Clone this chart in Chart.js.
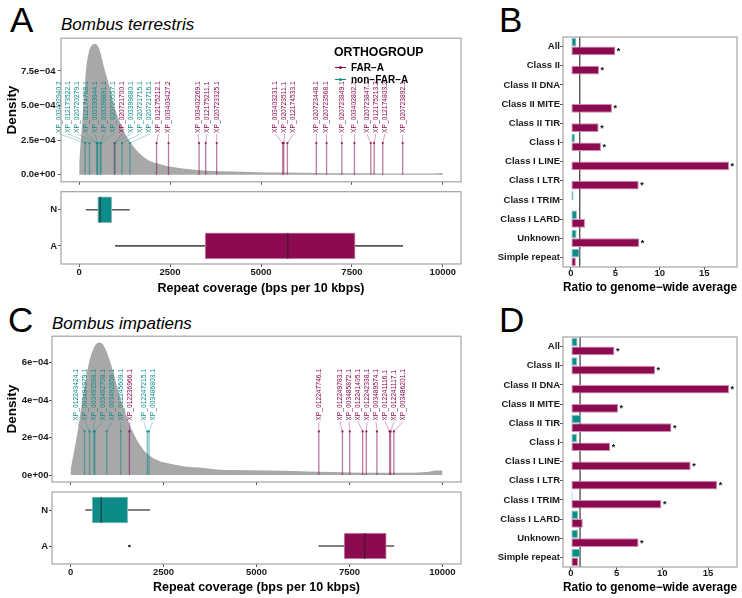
<!DOCTYPE html>
<html>
<head>
<meta charset="utf-8">
<script src="https://cdn.jsdelivr.net/npm/chart.js@4.4.1/dist/chart.umd.min.js"></script>
<style>
  body { margin: 0; width: 742px; height: 598px; position: relative; overflow: hidden; background: #fff;
         font-family: "Liberation Sans", Arial, sans-serif; color: #000; }
  canvas { position: absolute; }
  .txt { position: absolute; white-space: nowrap; line-height: 1; }
  .letter { font-size: 35px; }
  .species { font-size: 17px; font-style: italic; }
  .key { position: absolute; height: 1px; width: 11px; }
  .key i { position: absolute; left: 4px; top: -1.5px; width: 3px; height: 3px; border-radius: 50%; }
</style>
</head>
<body>
<div class="txt letter" style="left:10px;top:2px">A</div>
<div class="txt species" style="left:61px;top:16px">Bombus terrestris</div>
<div class="txt letter" style="left:499px;top:2px">B</div>
<div class="txt letter" style="left:8px;top:302px">C</div>
<div class="txt species" style="left:52px;top:315px">Bombus impatiens</div>
<div class="txt letter" style="left:499px;top:302px">D</div>

<canvas id="densA" width="470" height="160" style="left:0;top:30px"></canvas>
<canvas id="boxA" width="470" height="115" style="left:0;top:185px"></canvas>
<canvas id="barB" width="282" height="270" style="left:460px;top:30px"></canvas>
<canvas id="densC" width="470" height="160" style="left:0;top:330px"></canvas>
<canvas id="boxC" width="470" height="113" style="left:0;top:485px"></canvas>
<canvas id="barD" width="282" height="270" style="left:460px;top:330px"></canvas>

<div class="txt" style="left:334px;top:46px;font-size:12.3px;font-weight:bold">ORTHOGROUP</div>
<div class="key" style="left:335px;top:67px;background:#8b0a50"><i style="background:#8b0a50"></i></div>
<div class="txt" style="left:351px;top:62.5px;font-size:10px;font-weight:bold">FAR&#8722;A</div>
<div class="key" style="left:335px;top:79px;background:#0d8b89"><i style="background:#0d8b89"></i></div>
<div class="txt" style="left:351px;top:74.5px;font-size:10px;font-weight:bold">non&#8722;FAR&#8722;A</div>

<script>
Chart.defaults.font.family = '"Liberation Sans", Arial, sans-serif';
Chart.defaults.color = '#1a1a1a';

const MAGENTA = '#8b0a50';
const TEAL = '#0d8b89';

const coverageTicks = [0, 2500, 5000, 7500, 10000];
const boxGroups = ['N', 'A'];

// Bombus terrestris
const terrDensityX = [0, 50, 130, 190, 260, 350, 450, 550, 700, 830, 960, 1150, 1370, 1790, 2250, 2980, 3500, 4250, 5170, 6080, 7000, 7900, 8800, 9700, 10000];
const terrDensityY = [0.9e-4, 2.6e-4, 5.4e-4, 7.6e-4, 8.8e-4, 9.35e-4, 9.45e-4, 9.1e-4, 7.6e-4, 6.4e-4, 5.0e-4, 3.6e-4, 2.5e-4, 1.25e-4, 0.75e-4, 0.42e-4, 0.3e-4, 0.24e-4, 0.17e-4, 0.16e-4, 0.12e-4, 0.11e-4, 0.09e-4, 0.09e-4, 0.13e-4];
const terrDensityTicks = [0, 0.00025, 0.0005, 0.00075];
const terrDensityTickLabels = ['0.0e+00', '2.5e\u221204', '5.0e\u221204', '7.5e\u221204'];
const terrGenes = ['XP_003402940.2', 'XP_012173522.1', 'XP_020720279.1', 'XP_012174768.1', 'XP_003399944.1',
  'XP_003399891.1', 'XP_020720557.1', 'XP_020721700.1', 'XP_003399880.1', 'XP_020721715.1', 'XP_020721716.1',
  'XP_012175212.1', 'XP_003403427.2', 'XP_003402269.1', 'XP_012175211.1', 'XP_020723325.1', 'XP_003403231.1',
  'XP_020723511.1', 'XP_012174533.1', 'XP_020723448.1', 'XP_020723568.1', 'XP_020723849.1', 'XP_003402802.1',
  'XP_020723847.1', 'XP_012175213.2', 'XP_012174803.2', 'XP_020723892.1'];
const terrGeneGroup = ['non-FAR-A', 'non-FAR-A', 'non-FAR-A', 'non-FAR-A', 'non-FAR-A', 'non-FAR-A', 'non-FAR-A',
  'FAR-A', 'non-FAR-A', 'non-FAR-A', 'non-FAR-A', 'FAR-A', 'FAR-A', 'FAR-A', 'FAR-A', 'FAR-A', 'FAR-A', 'FAR-A',
  'FAR-A', 'FAR-A', 'FAR-A', 'FAR-A', 'FAR-A', 'FAR-A', 'FAR-A', 'FAR-A', 'FAR-A'];
const terrGeneCoverage = [164, 283, 485, 500, 511, 584, 600, 970, 985, 1178, 1397, 2128, 2457, 3297, 3479, 3781,
  5597, 5625, 5726, 6521, 6803, 7224, 7570, 8019, 8110, 8348, 8896];
const terrBoxLow = [190, 995];
const terrBoxQ1 = [511, 3461];
const terrBoxMedian = [575, 5735];
const terrBoxQ3 = [895, 7589];
const terrBoxHigh = [1379, 8895];
const terrOutliers = [[], []];

// Bombus impatiens
const impDensityX = [0, 179, 357, 536, 760, 893, 1072, 1252, 1430, 1698, 1966, 2324, 2770, 3128, 3485, 3932, 4379, 5273, 6166, 7060, 7954, 8847, 9562, 9830, 10000];
const impDensityY = [0.3e-4, 2.2e-4, 4.5e-4, 6.3e-4, 7.07e-4, 6.9e-4, 6.0e-4, 4.7e-4, 3.55e-4, 2.2e-4, 1.33e-4, 0.8e-4, 0.57e-4, 0.45e-4, 0.41e-4, 0.3e-4, 0.27e-4, 0.25e-4, 0.21e-4, 0.16e-4, 0.12e-4, 0.12e-4, 0.16e-4, 0.25e-4, 0.25e-4];
const impDensityTicks = [0, 0.0002, 0.0004, 0.0006];
const impDensityTickLabels = ['0e+00', '2e\u221204', '4e\u221204', '6e\u221204'];
const impGenes = ['XP_012243424.1', 'XP_003494979.1', 'XP_003493598.1', 'XP_003492708.1', 'XP_003492856.1',
  'XP_012245609.1', 'XP_012236966.1', 'XP_012247215.1', 'XP_003486803.1', 'XP_012247746.1', 'XP_012249783.1',
  'XP_003485872.1', 'XP_012241405.1', 'XP_012242338.1', 'XP_003489574.1', 'XP_012241116.1', 'XP_012241117.1',
  'XP_003486201.1'];
const impGeneGroup = ['non-FAR-A', 'non-FAR-A', 'non-FAR-A', 'non-FAR-A', 'non-FAR-A', 'non-FAR-A', 'FAR-A',
  'non-FAR-A', 'non-FAR-A', 'FAR-A', 'FAR-A', 'FAR-A', 'FAR-A', 'FAR-A', 'FAR-A', 'FAR-A', 'FAR-A', 'FAR-A'];
const impGeneCoverage = [375, 509, 625, 652, 974, 1349, 1582, 2064, 2110, 6676, 7311, 7507, 7855, 7954, 8239, 8579, 8606, 8694];
const impBoxLow = [402, 6676];
const impBoxQ1 = [581, 7354];
const impBoxMedian = [823, 7909];
const impBoxQ3 = [1536, 8491];
const impBoxHigh = [2127, 8694];
const impOutliers = [[], [1582]];

// ratio panels
const repeatClasses = ['All', 'Class II', 'Class II DNA', 'Class II MITE', 'Class II TIR', 'Class I',
  'Class I LINE', 'Class I LTR', 'Class I TRIM', 'Class I LARD', 'Unknown', 'Simple repeat'];
const ratioTicks = [0, 5, 10, 15];
const terrRatioNonFarA = [0.62, null, null, null, null, 0.45, null, null, 0.3, 0.68, 0.64, 0.98];
const terrRatioFarA = [5.0, 3.16, null, 4.62, 3.12, 3.38, 17.8, 7.63, null, 1.58, 7.7, 0.56];
const terrSignificant = [true, true, false, true, true, true, true, true, false, false, true, false];
const impRatioNonFarA = [0.73, 0.7, null, null, 1.13, 0.66, null, null, 0.18, 0.8, 0.77, 1.03];
const impRatioFarA = [4.76, 9.2, 17.3, 5.16, 11.0, 4.3, 13.1, 16.0, 9.9, 1.3, 7.4, 0.8];
const impSignificant = [true, true, true, true, true, true, true, true, true, false, true, false];

const tickFont = { size: 9.5, weight: 'bold' };
const noPlugins = { legend: { display: false }, tooltip: { enabled: false } };

const framePlugin = {
  id: 'frame',
  afterDraw(chart) {
    const { ctx, chartArea: a } = chart;
    ctx.save();
    ctx.strokeStyle = '#a3a3a3';
    ctx.lineWidth = 1.2;
    ctx.strokeRect(a.left, a.top, a.right - a.left, a.bottom - a.top);
    ctx.restore();
  }
};

function lollipopPlugin(genes, groups, coverage, labelBase, tipVal) {
  return {
    id: 'lollipops',
    afterDatasetsDraw(chart) {
      const { ctx, scales: { x, y } } = chart;
      const items = coverage.map((c, i) => ({
        px: x.getPixelForValue(c), name: genes[i], color: groups[i] === 'FAR-A' ? MAGENTA : TEAL
      }));
      items.sort((a, b) => a.px - b.px);
      items.forEach(it => { it.lx = it.px; });
      // simple repel so the labels do not overlap
      const gap = 9;
      for (let k = 0; k < 400; k++) {
        for (let i = 1; i < items.length; i++) {
          const d = items[i].lx - items[i - 1].lx;
          if (d < gap) {
            const s = (gap - d) / 2;
            items[i].lx += s;
            items[i - 1].lx -= s;
          }
        }
      }
      const y0 = y.getPixelForValue(0);
      const yTip = y.getPixelForValue(tipVal);
      const yBase = y.getPixelForValue(labelBase);
      ctx.save();
      items.forEach(it => {
        ctx.strokeStyle = it.color;
        ctx.globalAlpha = 0.55;
        ctx.lineWidth = 1.3;
        ctx.beginPath(); ctx.moveTo(it.px, y0); ctx.lineTo(it.px, yTip); ctx.stroke();
        ctx.globalAlpha = 0.5;
        ctx.lineWidth = 0.7;
        ctx.beginPath(); ctx.moveTo(it.lx, yBase); ctx.lineTo(it.px, yTip); ctx.stroke();
        ctx.globalAlpha = 0.9;
        ctx.fillStyle = it.color;
        ctx.beginPath(); ctx.arc(it.px, yTip, 1.1, 0, Math.PI * 2); ctx.fill();
        ctx.globalAlpha = 1;
        ctx.save();
        ctx.translate(it.lx, yBase - 1);
        ctx.rotate(-Math.PI / 2);
        ctx.font = '6.7px "Liberation Sans", Arial, sans-serif';
        ctx.textAlign = 'left';
        ctx.textBaseline = 'middle';
        ctx.fillText(it.name, 0, 0);
        ctx.restore();
      });
      ctx.restore();
    }
  };
}

function densityChart(id, xs, ys, yMin, yMax, ticks, tickLabels, axisWidth, padTop, tickPad,
                      genes, groups, coverage, labelBase, tipVal) {
  new Chart(document.getElementById(id), {
    type: 'line',
    data: {
      datasets: [{
        data: xs.map((x, i) => ({ x: x, y: ys[i] })),
        fill: 'origin',
        backgroundColor: '#a8a8a8',
        borderColor: 'rgba(0,0,0,0)',
        borderWidth: 0,
        pointRadius: 0,
        cubicInterpolationMode: 'monotone'
      }]
    },
    options: {
      responsive: false,
      animation: false,
      layout: { padding: { top: padTop, right: 9 } },
      plugins: noPlugins,
      scales: {
        x: {
          type: 'linear', min: -500, max: 10500,
          afterBuildTicks: ax => { ax.ticks = coverageTicks.map(v => ({ value: v })); },
          afterFit: ax => { ax.height = 8; },
          ticks: { display: false },
          grid: { drawOnChartArea: false, tickLength: 3, color: '#555' },
          border: { display: false }
        },
        y: {
          type: 'linear', min: yMin, max: yMax,
          afterBuildTicks: ax => { ax.ticks = ticks.map(v => ({ value: v })); },
          afterFit: ax => { ax.width = axisWidth; },
          ticks: { callback: (v, i) => tickLabels[i], font: tickFont, padding: tickPad, color: '#1a1a1a' },
          grid: { drawOnChartArea: false, tickLength: 3, color: '#555' },
          border: { display: false },
          title: { display: true, text: 'Density', font: { size: 13.5, weight: 'bold' }, color: '#000', padding: { top: 4, bottom: 0 } }
        }
      }
    },
    plugins: [lollipopPlugin(genes, groups, coverage, labelBase, tipVal), framePlugin]
  });
}

function boxChart(id, low, q1, median, q3, high, outliers, axisWidth, padTop, plotHeight, titlePad) {
  const canvas = document.getElementById(id);
  const medianPlugin = {
    id: 'medians',
    afterDatasetsDraw(chart) {
      const { ctx, scales: { x, y } } = chart;
      const meta = chart.getDatasetMeta(0);
      ctx.save();
      meta.data.forEach((el, i) => {
        const px = x.getPixelForValue(median[i]);
        ctx.strokeStyle = 'rgba(35,35,35,0.6)';
        ctx.lineWidth = 1.5;
        ctx.beginPath(); ctx.moveTo(px, el.y - el.height / 2); ctx.lineTo(px, el.y + el.height / 2); ctx.stroke();
      });
      outliers.forEach((list, i) => {
        list.forEach(v => {
          ctx.fillStyle = '#1a1a1a';
          ctx.beginPath(); ctx.arc(x.getPixelForValue(v), y.getPixelForValue(i), 1.3, 0, Math.PI * 2); ctx.fill();
        });
      });
      ctx.restore();
    }
  };
  new Chart(canvas, {
    type: 'bar',
    data: {
      labels: boxGroups,
      datasets: [
        { data: q1.map((v, i) => [v, q3[i]]), backgroundColor: [TEAL, MAGENTA], borderColor: ['#86bdbb', '#cf9ab6'],
          borderWidth: 1, borderSkipped: false, barThickness: 26, grouped: false },
        { data: low.map((v, i) => [v, high[i]]), backgroundColor: '#555', borderWidth: 0, barThickness: 1, grouped: false }
      ]
    },
    options: {
      indexAxis: 'y',
      responsive: false,
      animation: false,
      layout: { padding: { top: padTop, right: 9 } },
      plugins: noPlugins,
      scales: {
        x: {
          type: 'linear', min: -500, max: 10500,
          afterBuildTicks: ax => { ax.ticks = coverageTicks.map(v => ({ value: v })); },
          afterFit: ax => { ax.height = canvas.height - padTop - plotHeight; },
          ticks: { callback: v => String(v), font: tickFont, padding: -0.5, color: '#1a1a1a', maxRotation: 0 },
          grid: { drawOnChartArea: false, tickLength: 3, color: '#555' },
          border: { display: false },
          title: { display: true, text: 'Repeat coverage (bps per 10 kbps)', font: { size: 12.5, weight: 'bold' },
                   color: '#000', padding: { top: 0, bottom: titlePad } }
        },
        y: {
          afterFit: ax => { ax.width = axisWidth; },
          ticks: { font: tickFont, padding: 1, color: '#1a1a1a' },
          grid: { drawOnChartArea: false, offset: false, tickLength: 3, color: '#555' },
          border: { display: false }
        }
      }
    },
    plugins: [medianPlugin, framePlugin]
  });
}

function ratioChart(id, nonFar, far, significant, xMin, xMax) {
  const refLine = {
    id: 'refLine',
    beforeDatasetsDraw(chart) {
      const { ctx, chartArea: a, scales: { x } } = chart;
      const px = x.getPixelForValue(1);
      ctx.save();
      ctx.strokeStyle = '#111';
      ctx.lineWidth = 1;
      ctx.beginPath(); ctx.moveTo(px, a.top); ctx.lineTo(px, a.bottom); ctx.stroke();
      ctx.restore();
    }
  };
  const stars = {
    id: 'stars',
    afterDatasetsDraw(chart) {
      const { ctx } = chart;
      const meta = chart.getDatasetMeta(1);
      ctx.save();
      ctx.fillStyle = '#111';
      ctx.font = 'bold 9px "Liberation Sans", Arial, sans-serif';
      ctx.textAlign = 'left';
      ctx.textBaseline = 'middle';
      significant.forEach((s, i) => {
        if (!s || far[i] == null) return;
        const el = meta.data[i];
        ctx.fillText('*', el.x + 1.5, el.y + 0.5);
      });
      ctx.restore();
    }
  };
  new Chart(document.getElementById(id), {
    type: 'bar',
    data: {
      labels: repeatClasses,
      datasets: [
        { data: nonFar, backgroundColor: TEAL, borderColor: '#84c4c2', borderWidth: 1, borderSkipped: false,
          categoryPercentage: 0.9, barPercentage: 1 },
        { data: far, backgroundColor: MAGENTA, borderColor: '#d08bb0', borderWidth: 1, borderSkipped: false,
          categoryPercentage: 0.9, barPercentage: 1 }
      ]
    },
    options: {
      indexAxis: 'y',
      responsive: false,
      animation: false,
      layout: { padding: { top: 7, right: 5 } },
      plugins: noPlugins,
      scales: {
        x: {
          type: 'linear', min: xMin, max: xMax,
          afterBuildTicks: ax => { ax.ticks = ratioTicks.map(v => ({ value: v })); },
          afterFit: ax => { ax.height = 33; },
          ticks: { callback: v => String(v), font: tickFont, padding: -2, color: '#1a1a1a', maxRotation: 0 },
          grid: { drawOnChartArea: false, tickLength: 3, color: '#555' },
          border: { display: false },
          title: { display: true, text: 'Ratio to genome\u2212wide average', font: { size: 12, weight: 'bold' },
                   color: '#000', padding: { top: 0, bottom: 5.5 } }
        },
        y: {
          afterFit: ax => { ax.width = 103; },
          ticks: { font: tickFont, padding: 0, color: '#1a1a1a' },
          grid: { drawOnChartArea: false, offset: false, tickLength: 3, color: '#555' },
          border: { display: false }
        }
      }
    },
    plugins: [refLine, stars, framePlugin]
  });
}

densityChart('densA', terrDensityX, terrDensityY, -0.00005, 0.000986, terrDensityTicks, terrDensityTickLabels,
  61, 7, 2.5, terrGenes, terrGeneGroup, terrGeneCoverage, 0.000295, 0.00023);
boxChart('boxA', terrBoxLow, terrBoxQ1, terrBoxMedian, terrBoxQ3, terrBoxHigh, terrOutliers, 61, 6, 73, 3.5);
ratioChart('barB', terrRatioNonFarA, terrRatioFarA, terrSignificant, -0.89, 18.69);

densityChart('densC', impDensityX, impDensityY, -0.000037, 0.000741, impDensityTicks, impDensityTickLabels,
  52, 6, 0.5, impGenes, impGeneGroup, impGeneCoverage, 0.000285, 0.000233);
boxChart('boxC', impBoxLow, impBoxQ1, impBoxMedian, impBoxQ3, impBoxHigh, impOutliers, 52, 7, 72, 2.5);
ratioChart('barD', impRatioNonFarA, impRatioFarA, impSignificant, -0.865, 18.17);
</script>
</body>
</html>
